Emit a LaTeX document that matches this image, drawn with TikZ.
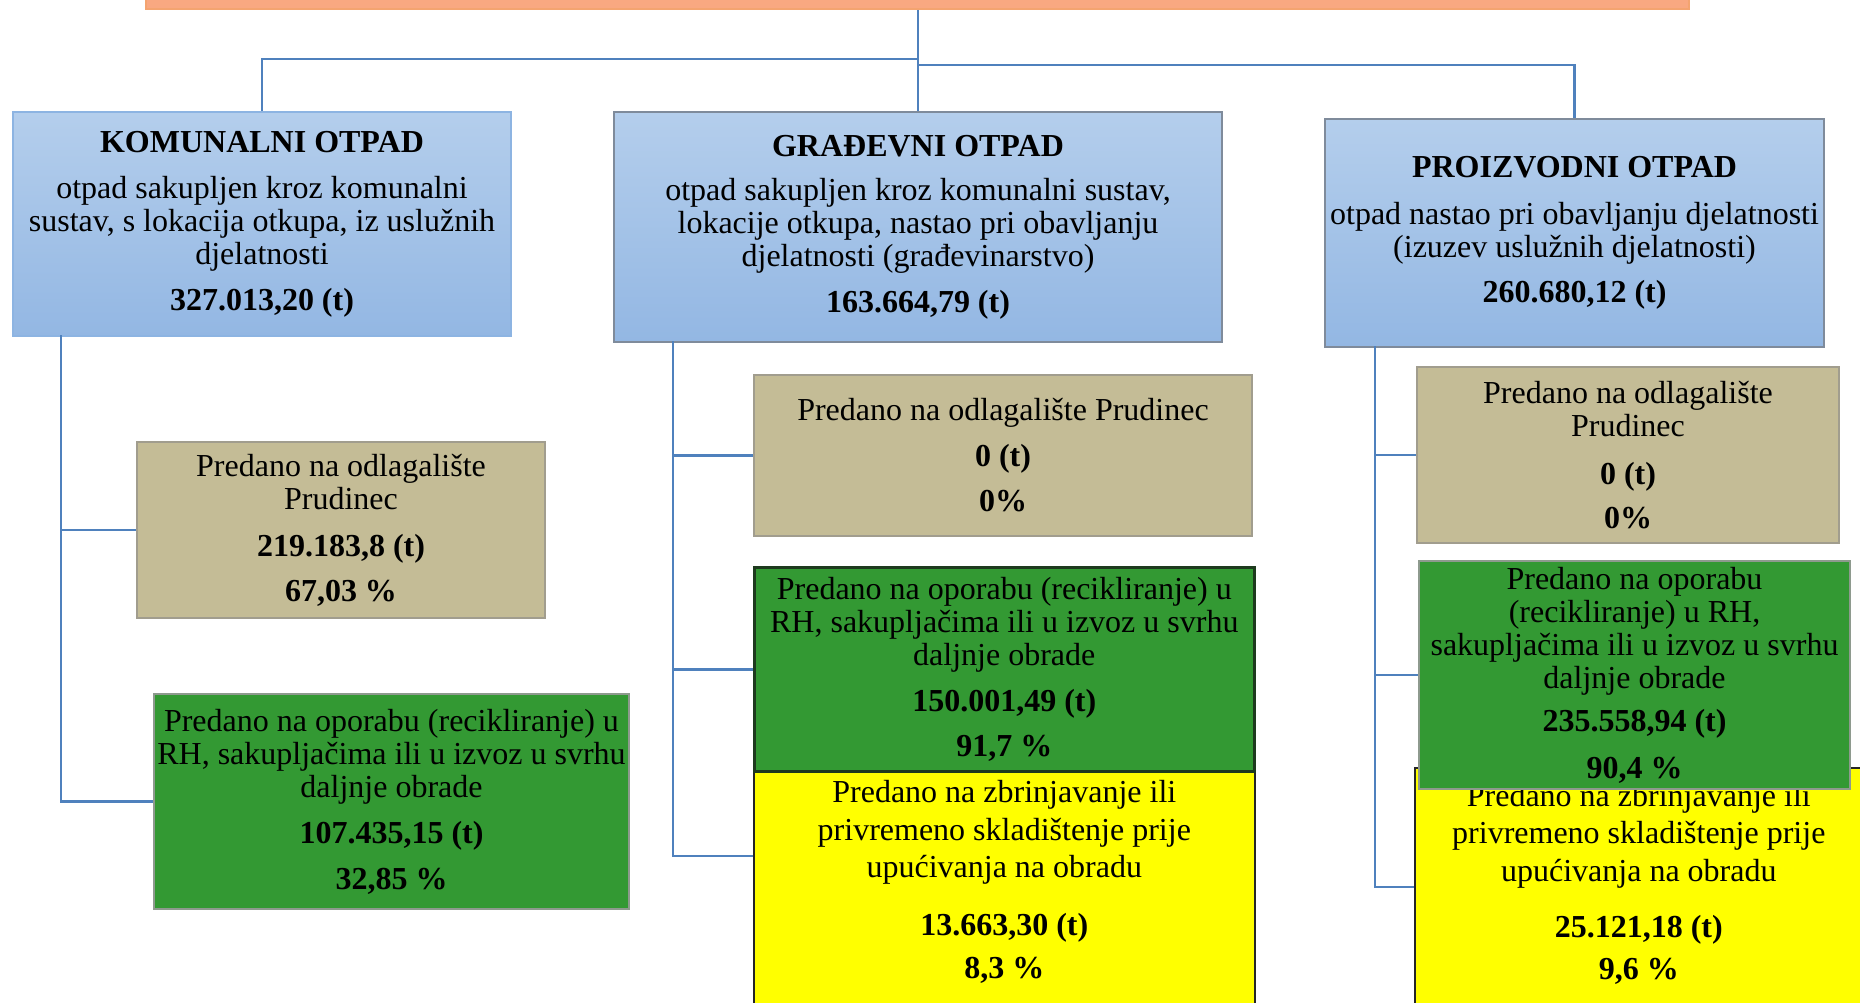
\documentclass[tikz,border=0pt]{standalone}
\usepackage{fontspec}
\setmainfont{Liberation Serif}
\definecolor{connc}{HTML}{4F81BD}
\definecolor{blueT}{HTML}{B4CEEC}
\definecolor{blueB}{HTML}{93B7E3}
\definecolor{blueLine}{HTML}{8DB4E2}
\definecolor{grayLine}{HTML}{7F8B9B}
\definecolor{tanc}{HTML}{C4BC96}
\definecolor{tanLine}{HTML}{A19D8E}
\definecolor{grnc}{HTML}{339933}
\definecolor{grnLine}{HTML}{8E9A8E}
\definecolor{grnDark}{HTML}{1E3A1E}
\definecolor{yelc}{HTML}{FFFF00}
\definecolor{orangeF}{HTML}{F9A881}
\definecolor{orangeD}{HTML}{F4A470}
\begin{document}
\begin{tikzpicture}[x=1pt,y=-1pt,
  conn/.style={draw=connc, line width=2.8pt},
  boxbase/.style={inner sep=0pt, align=center, anchor=north west},
  bluebox/.style={boxbase, top color=blueT, bottom color=blueB, line width=2pt,
    font=\fontsize{32}{33}\selectfont},
  tanbox/.style={boxbase, fill=tanc, draw=tanLine, line width=2pt,
    font=\fontsize{32}{33}\selectfont},
  grnbox/.style={boxbase, fill=grnc, draw=grnLine, line width=2pt,
    font=\fontsize{32}{33}\selectfont},
  yelbox/.style={boxbase, fill=yelc, draw=black!85, line width=1.6pt,
    font=\fontsize{32}{37.5}\selectfont},
  rootbar/.style={boxbase, fill=orangeF, draw=orangeD, line width=2pt}
]
\useasboundingbox (0,0) rectangle (1860,1003);
\clip (0,0) rectangle (1860,1003);

% root bar
\node[rootbar, minimum width=1543, minimum height=40] (root) at (145,-32) {};

% coordinates for connector junctions
\coordinate (jk) at (917,59);
\coordinate (jp) at (917,65);
\coordinate (kv) at (61,335);
\coordinate (gv) at (673,341);
\coordinate (pv) at (1375,346);
\coordinate (gyin) at (753,856);
\coordinate (pyin) at (1414,887);

% main boxes
\node[bluebox, draw=blueLine, minimum width=498, minimum height=224] (kom) at (12,111)
  {\textbf{KOMUNALNI OTPAD}\\[13pt]otpad sakupljen kroz komunalni\\sustav, s lokacija otkupa, iz uslužnih\\djelatnosti\\[13pt]\textbf{327.013,20 (t)}};
\node[bluebox, draw=grayLine, minimum width=608, minimum height=230] (gra) at (613,111)
  {\textbf{GRAĐEVNI OTPAD}\\[11pt]otpad sakupljen kroz komunalni sustav,\\lokacije otkupa, nastao pri obavljanju\\djelatnosti (građevinarstvo)\\[13pt]\textbf{163.664,79 (t)}};
\node[bluebox, draw=grayLine, minimum width=499, minimum height=228] (pro) at (1324,118)
  {\textbf{PROIZVODNI OTPAD}\\[14pt]otpad nastao pri obavljanju djelatnosti\\(izuzev uslužnih djelatnosti)\\[12pt]\textbf{260.680,12 (t)}};

% connectors
\draw[conn] (root.south -| gra.north) -- (gra.north);
\draw[conn] (jk) -| (kom.north);
\draw[conn] (jp) -| (pro.north);

% komunalni children
\node[tanbox, minimum width=408, minimum height=176] (ktan) at (136,441)
  {Predano na odlagalište\\Prudinec\\[14pt]\textbf{219.183,8 (t)}\\[12pt]\textbf{67,03 \%}};
\node[grnbox, minimum width=475, minimum height=215] (kgrn) at (153,693)
  {Predano na oporabu (recikliranje) u\\RH, sakupljačima ili u izvoz u svrhu\\daljnje obrade\\[13pt]\textbf{107.435,15 (t)}\\[13pt]\textbf{32,85 \%}};
\draw[conn] (kv) |- (ktan.west);
\draw[conn] (kv) |- (kgrn.west);

% gradevni children
\draw[conn] (gv) |- (gyin);
\node[tanbox, minimum width=498, minimum height=161] (gtan) at (753,374)
  {Predano na odlagalište Prudinec\\[13pt]\textbf{0 (t)}\\[12pt]\textbf{0\%}};
\node[yelbox, minimum width=501, minimum height=250] (gyel) at (753,770)
  {Predano na zbrinjavanje ili\\privremeno skladištenje prije\\upućivanja na obradu\\[20pt]\textbf{13.663,30 (t)}\\[6pt]\textbf{8,3 \%}\rule[-32pt]{0pt}{1pt}};
\node[grnbox, draw=grnDark, line width=2.6pt, minimum width=500, minimum height=204] (ggrn) at (753,566)
  {Predano na oporabu (recikliranje) u\\RH, sakupljačima ili u izvoz u svrhu\\daljnje obrade\\[13pt]\textbf{150.001,49 (t)}\\[12pt]\textbf{91,7 \%}};
\draw[conn] (gv) |- (gtan.west);
\draw[conn] (gv) |- (ggrn.west);

% proizvodni children
\draw[conn] (pv) |- (pyin);
\node[tanbox, minimum width=422, minimum height=176] (ptan) at (1416,366)
  {Predano na odlagalište\\Prudinec\\[15pt]\textbf{0 (t)}\\[11pt]\textbf{0\%}};
\node[yelbox, minimum width=448, minimum height=250] (pyel) at (1414,767)
  {Predano na zbrinjavanje ili\\privremeno skladištenje prije\\upućivanja na obradu\\[19pt]\textbf{25.121,18 (t)}\\[4pt]\textbf{9,6 \%}\rule[-22pt]{0pt}{1pt}};
\node[grnbox, minimum width=431, minimum height=228] (pgrn) at (1418,560)
  {Predano na oporabu\\(recikliranje) u RH,\\sakupljačima ili u izvoz u svrhu\\daljnje obrade\\[10pt]\textbf{235.558,94 (t)}\\[14pt]\textbf{90,4 \%}};
\draw[conn] (pv) |- (ptan.west);
\draw[conn] (pv) |- (pgrn.west);
\end{tikzpicture}
\end{document}
